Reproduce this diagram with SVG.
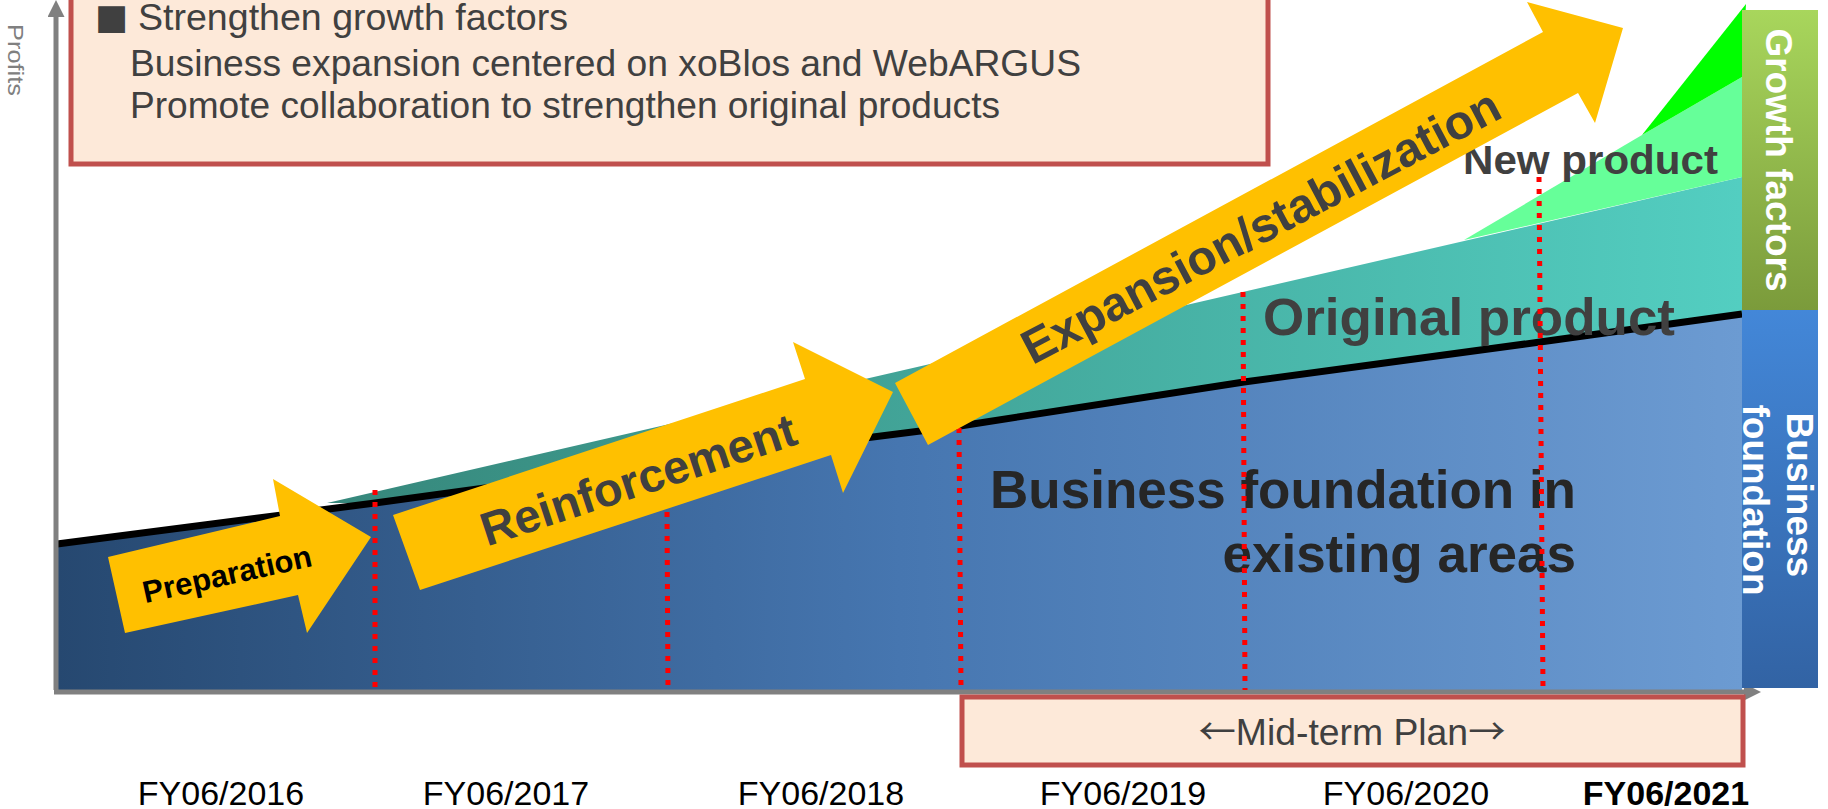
<svg xmlns="http://www.w3.org/2000/svg" width="1828" height="809" viewBox="0 0 1828 809">
  <defs>
    <linearGradient id="gBase" gradientUnits="userSpaceOnUse" x1="57" y1="0" x2="1742" y2="0">
      <stop offset="0" stop-color="#264870"/>
      <stop offset="0.5" stop-color="#4676B0"/>
      <stop offset="1" stop-color="#6C9BD2"/>
    </linearGradient>
    <linearGradient id="gTeal" gradientUnits="userSpaceOnUse" x1="327" y1="0" x2="1742" y2="0">
      <stop offset="0" stop-color="#36877B"/>
      <stop offset="1" stop-color="#53CEC1"/>
    </linearGradient>
    <linearGradient id="gGrowthBar" x1="0" y1="0" x2="0" y2="1">
      <stop offset="0" stop-color="#A8D65C"/>
      <stop offset="1" stop-color="#7B9B3B"/>
    </linearGradient>
    <linearGradient id="gBaseBar" x1="0" y1="0" x2="0" y2="1">
      <stop offset="0" stop-color="#4387D8"/>
      <stop offset="1" stop-color="#3263A4"/>
    </linearGradient>
    <marker id="axisHead" viewBox="0 0 10 10" refX="0" refY="5" markerWidth="3.4" markerHeight="3.4" orient="auto" markerUnits="strokeWidth">
      <path d="M0,0 L10,5 L0,10 z" fill="#808080"/>
    </marker>
  </defs>
  <style>
    .box { fill: #FDE9D9; stroke: #C0504D; stroke-width: 5; }
    .boxtxt { font-family: "Liberation Sans", Arial, sans-serif; font-size: 37px; fill: #404040; }
    .axis { stroke: #808080; stroke-width: 5; fill: none; }
    .guide { stroke: #FF0000; stroke-width: 5; stroke-dasharray: 5 7; fill: none; }
    .arrow { fill: #FFC000; }
    .bold { font-family: "Liberation Sans", Arial, sans-serif; font-weight: bold; }
    .fy { font-family: "Liberation Sans", Arial, sans-serif; font-size: 34px; fill: #000; text-anchor: middle; }
    .bar { font-family: "Liberation Sans", Arial, sans-serif; font-weight: bold; font-size: 37px; fill: #FFFFFF; text-anchor: middle; }
  </style>

  <rect width="1828" height="809" fill="#FFFFFF"/>

  <!-- growth-factor notes -->
  <g id="notes">
    <rect class="box" x="71" y="-10" width="1197" height="174"/>
    <text class="boxtxt" x="95" y="29"><tspan font-family="DejaVu Sans, sans-serif" font-size="35">■</tspan></text>
    <text class="boxtxt" x="138" y="30" textLength="430" lengthAdjust="spacingAndGlyphs">Strengthen growth factors</text>
    <text class="boxtxt" x="130" y="76" textLength="951" lengthAdjust="spacingAndGlyphs">Business expansion centered on xoBlos and WebARGUS</text>
    <text class="boxtxt" x="130" y="118" textLength="870" lengthAdjust="spacingAndGlyphs">Promote collaboration to strengthen original products</text>
  </g>

  <!-- profit areas -->
  <g id="areas">
    <polygon id="base-area" fill="url(#gBase)" points="57,544 375,503 668,463 960,426 1244,382 1540,342 1742,314 1742,690 57,690"/>
    <polygon id="original-area" fill="url(#gTeal)" points="327,503 1742,177 1742,314 1540,342 1244,382 960,426 668,463 375,503"/>
    <polygon id="new-area" fill="#66FF99" points="1464,240 1642,135 1742,77 1742,177"/>
    <polygon id="new-area-top" fill="#00FF00" points="1642,135 1746,4 1742,77"/>
    <polyline fill="none" stroke="#000000" stroke-width="7" points="57,544 375,503 668,463 960,426 1244,382 1540,342 1742,314"/>
  </g>

  <!-- axes -->
  <g id="axes">
    <line class="axis" x1="56" y1="690" x2="56" y2="17" marker-end="url(#axisHead)"/>
    <line class="axis" x1="54" y1="692" x2="1744" y2="692" marker-end="url(#axisHead)"/>
    <text transform="translate(8,24) rotate(90)" font-family="Liberation Sans, Arial, sans-serif" font-size="22" fill="#808080" textLength="72" lengthAdjust="spacingAndGlyphs">Profits</text>
  </g>

  <!-- area labels -->
  <g id="labels">
    <text class="bold" x="1263" y="335" font-size="52" fill="#404040" textLength="412" lengthAdjust="spacingAndGlyphs">Original product</text>
    <text class="bold" x="1463" y="174" font-size="41" fill="#404040" textLength="255" lengthAdjust="spacingAndGlyphs">New product</text>
    <text class="bold" x="1576" y="508" font-size="53" fill="#262626" text-anchor="end">Business foundation in</text>
    <text class="bold" x="1576" y="572" font-size="53" fill="#262626" text-anchor="end">existing areas</text>
  </g>

  <!-- fiscal-year guides -->
  <g id="guides">
    <line class="guide" x1="375" y1="490" x2="375" y2="690"/>
    <line class="guide" x1="667" y1="512" x2="668" y2="690"/>
    <line class="guide" x1="959" y1="428" x2="961" y2="690"/>
    <line class="guide" x1="1243" y1="292" x2="1245" y2="690"/>
    <line class="guide" x1="1539" y1="177" x2="1543" y2="690"/>
  </g>

  <!-- side bars -->
  <g id="growth-factors">
    <rect x="1742" y="10" width="76" height="300" fill="url(#gGrowthBar)"/>
    <text class="bar" transform="translate(1766,160) rotate(90)">Growth factors</text>
  </g>
  <g id="business-foundation">
    <rect x="1742" y="310" width="76" height="378" fill="url(#gBaseBar)"/>
    <text class="bar" transform="translate(1787,500) rotate(90)">
      <tspan x="0" y="0">Business</tspan>
      <tspan x="0" y="44">foundation</tspan>
    </text>
  </g>

  <!-- phase arrows -->
  <g id="preparation">
    <polygon class="arrow" points="108,557 280,516 273,479 371,537 307,633 298,595 125,633"/>
    <text class="bold" transform="translate(226,569) rotate(-12.5)" x="0" y="16" font-size="31" fill="#000000" text-anchor="middle">Preparation</text>
  </g>
  <g id="reinforcement">
    <polygon class="arrow" points="393,515 805,379 793,342 893,392 843,493 831,455 420,590"/>
    <text class="bold" transform="translate(637,476) rotate(-18.2)" x="0" y="20" font-size="47" fill="#404040" text-anchor="middle">Reinforcement</text>
  </g>
  <g id="expansion">
    <polygon class="arrow" points="895,383 1543,32 1527,2 1623,28 1595,123 1578,93 928,445"/>
    <text class="bold" transform="translate(1260,225) rotate(-27.8)" x="0" y="18" font-size="48" fill="#404040" text-anchor="middle">Expansion/stabilization</text>
  </g>

  <!-- plan period -->
  <g id="mid-term-plan">
    <rect class="box" x="962" y="697" width="781" height="68"/>
    <text x="1352" y="745" font-family="Liberation Sans, Arial, sans-serif" font-size="36" fill="#404040" text-anchor="middle" textLength="307" lengthAdjust="spacingAndGlyphs"><tspan font-family="Noto Sans CJK JP, sans-serif">←</tspan>Mid-term Plan<tspan font-family="Noto Sans CJK JP, sans-serif">→</tspan></text>
  </g>

  <!-- fiscal-year axis labels -->
  <g id="years">
    <text class="fy" x="221" y="805">FY06/2016</text>
    <text class="fy" x="506" y="805">FY06/2017</text>
    <text class="fy" x="821" y="805">FY06/2018</text>
    <text class="fy" x="1123" y="805">FY06/2019</text>
    <text class="fy" x="1406" y="805">FY06/2020</text>
    <text class="fy" x="1666" y="805" font-weight="bold">FY06/2021</text>
  </g>
</svg>
